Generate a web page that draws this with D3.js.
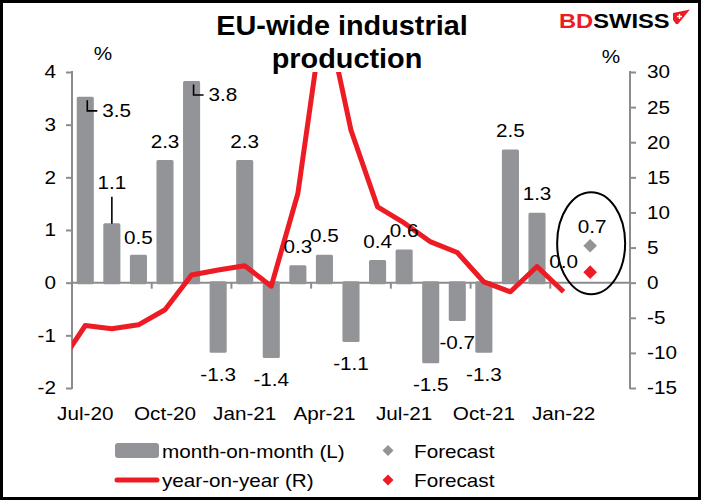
<!DOCTYPE html>
<html>
<head>
<meta charset="utf-8">
<script src="https://cdn.jsdelivr.net/npm/d3@7"></script>
<style>
  html, body { margin: 0; padding: 0; background: #fff; }
  svg { display: block; }
  text { font-family: "Liberation Sans", Arial, sans-serif; }
</style>
</head>
<body>
<svg id="chart" width="701" height="500"></svg>
<script>
// ---------------- DATA ----------------
const months = ["Jul-20","Aug-20","Sep-20","Oct-20","Nov-20","Dec-20",
                "Jan-21","Feb-21","Mar-21","Apr-21","May-21","Jun-21",
                "Jul-21","Aug-21","Sep-21","Oct-21","Nov-21","Dec-21",
                "Jan-22","Feb-22","Mar-22"];
const momValues = [3.5, 1.1, 0.5, 2.3, 3.8, -1.3, 2.3, -1.4, 0.3, 0.5, -1.1,
                   0.4, 0.6, -1.5, -0.7, -1.3, 2.5, 1.3, 0.0];
const yoyPrior = -11.8;              // Jun-20, only its segment into Jul-20 is visible
const yoyValues = [-6.1, -6.55, -6.0, -3.85, 1.1, 1.8, 2.4, -0.5, 12.7, 39.4,
                   21.7, 10.8, 8.5, 5.8, 4.3, 0.1, -1.3, 2.3, -1.3];
const forecastMonth = "Feb-22";
const forecastMom = 0.7;
const forecastYoy = 1.5;
const xTickLabels = ["Jul-20","Oct-20","Jan-21","Apr-21","Jul-21","Oct-21","Jan-22"];
const leftTicks = [-2, -1, 0, 1, 2, 3, 4];
const rightTicks = [-15, -10, -5, 0, 5, 10, 15, 20, 25, 30];
const legendLabels = ["month-on-month (L)", "year-on-year (R)", "Forecast", "Forecast"];
const titleLines = ["EU-wide industrial", "production"];

// ---------------- STYLE ----------------
const GREY_BAR = "#929497";
const AXIS = "#8c8c8c";
const RED = "#ED1C24";
const SX = 1.15; // horizontal stretch of the reference's text

const svg = d3.select("#chart");
const P = { left: 72, right: 630, top: 72, bottom: 388 };

const x = d3.scaleBand().domain(months).range([P.left, P.right]).paddingInner(0.47).paddingOuter(0.235);
const step = x.step();
const cx = m => x(m) + x.bandwidth() / 2;
const yL = d3.scaleLinear().domain([-2, 4]).range([P.bottom, P.top]);
const yR = d3.scaleLinear().domain([-15, 30]).range([P.bottom, P.top]);

function txt(sel, px, py, str, o = {}) {
  return sel.append("text")
    .attr("transform", `translate(${px},${py}) scale(${o.sx ?? SX},1)`)
    .attr("text-anchor", o.anchor || "start")
    .attr("font-size", o.size || 18)
    .attr("font-weight", o.weight || "normal")
    .attr("fill", o.fill || "#000")
    .text(str);
}

// border
svg.append("rect").attr("x", 1.5).attr("y", 1.5).attr("width", 698).attr("height", 497)
  .attr("fill", "#fff").attr("stroke", "#000").attr("stroke-width", 3);

// title
txt(svg, 342, 35, titleLines[0], { size: 28, weight: "bold", anchor: "middle", sx: 1.03 });
txt(svg, 347, 68, titleLines[1], { size: 28, weight: "bold", anchor: "middle", sx: 1.03 });

// logo
const logo = svg.append("text").attr("transform", "translate(559,28) scale(1.13,1)")
  .attr("font-size", 21).attr("font-weight", "bold");
logo.append("tspan").attr("fill", RED).text("BD");
logo.append("tspan").attr("fill", "#000").text("SWISS");
svg.append("path").attr("d", "M673,13 L690,9.5 L678,24 L676,24 L673,20 Z").attr("fill", RED);
svg.append("path").attr("d", "M677,16.5 h5 M679.5,14 v5").attr("stroke", "#fff").attr("stroke-width", 1.3);

// percent labels
txt(svg, 103, 60, "%", { anchor: "middle" });
txt(svg, 611, 63, "%", { anchor: "middle" });

// ---------------- AXES ----------------
const axisG = svg.append("g");
// left axis
const leftAxis = d3.axisLeft(yL).tickValues(leftTicks).tickSize(6).tickFormat("");
const gl = axisG.append("g").attr("transform", `translate(${P.left},0)`).call(leftAxis);
gl.select(".domain").remove();
gl.selectAll(".tick line").attr("stroke", AXIS).attr("stroke-width", 2);
axisG.append("line").attr("x1", P.left).attr("x2", P.left)
  .attr("y1", yL(4) - 1).attr("y2", yL(-2) + 1).attr("stroke", AXIS).attr("stroke-width", 2);
leftTicks.forEach(t => txt(axisG, 56, yL(t) + 6.4, String(t), { anchor: "end" }));

// right axis
const rightAxis = d3.axisRight(yR).tickValues(rightTicks).tickSize(6).tickFormat("");
const gr = axisG.append("g").attr("transform", `translate(${P.right},0)`).call(rightAxis);
gr.select(".domain").remove();
gr.selectAll(".tick line").attr("stroke", AXIS).attr("stroke-width", 2);
axisG.append("line").attr("x1", P.right).attr("x2", P.right)
  .attr("y1", yR(30) - 1).attr("y2", yR(-15) + 1).attr("stroke", AXIS).attr("stroke-width", 2);
rightTicks.forEach(t => txt(axisG, 647, yR(t) + 6.4, String(t), { anchor: "start" }));

// zero line + category ticks every 3 months
axisG.append("line").attr("x1", P.left).attr("x2", P.right)
  .attr("y1", yL(0)).attr("y2", yL(0)).attr("stroke", AXIS).attr("stroke-width", 2);
const boundaryIdx = d3.range(3, months.length, 3);
axisG.selectAll(".xtick").data(boundaryIdx).join("line")
  .attr("x1", i => x(months[i]) - (step - x.bandwidth()) / 2)
  .attr("x2", i => x(months[i]) - (step - x.bandwidth()) / 2)
  .attr("y1", yL(0)).attr("y2", yL(0) + 6).attr("stroke", AXIS).attr("stroke-width", 2);
xTickLabels.forEach(m => txt(axisG, cx(m), 420, m, { anchor: "middle" }));

// ---------------- BARS ----------------
const bars = svg.append("g");
bars.selectAll("rect").data(momValues).join("rect")
  .attr("x", (d, i) => x(months[i]))
  .attr("width", x.bandwidth())
  .attr("y", d => yL(Math.max(0, d)))
  .attr("height", d => Math.abs(yL(d) - yL(0)))
  .attr("fill", GREY_BAR).attr("stroke", GREY_BAR)
  .attr("stroke-width", 3).attr("stroke-linejoin", "round");

// ---------------- LINE ----------------
svg.append("clipPath").attr("id", "plotclip").append("rect")
  .attr("x", P.left).attr("y", P.top).attr("width", P.right - P.left).attr("height", P.bottom - P.top);
const linePts = [[cx(months[0]) - step, yR(yoyPrior)]]
  .concat(yoyValues.map((v, i) => [cx(months[i]), yR(v)]));
svg.append("path").attr("clip-path", "url(#plotclip)")
  .attr("d", d3.line()(linePts))
  .attr("fill", "none").attr("stroke", RED).attr("stroke-width", 5)
  .attr("stroke-linejoin", "round");

// ---------------- LABELS ----------------
const labG = svg.append("g");
momValues.forEach((v, i) => {
  const bx = cx(months[i]);
  let dx = 0, dy = v >= 0 ? -14 : 29.5, anchor = "middle";
  const s = v.toFixed(1);
  if (i === 0 || i === 4) {          // labels set beside the bar with an elbow leader
    dx = 17; dy = 18.5; anchor = "start";
    labG.append("path")
      .attr("d", `M${bx + 2},${yL(v) + 2} V${yL(v) + 12.5} H${bx + 12}`)
      .attr("fill", "none").attr("stroke", "#000").attr("stroke-width", 1.6);
  }
  if (i === 1) {                      // label lifted with a vertical leader
    dy = -36;
    labG.append("line").attr("x1", bx).attr("x2", bx)
      .attr("y1", yL(v) - 1).attr("y2", yL(v) - 28)
      .attr("stroke", "#000").attr("stroke-width", 1.6);
  }
  if (i === 2) dy = -12;
  if (i === 18) dy = -15;
  txt(labG, bx + dx, yL(v) + dy, s, { anchor });
});

// forecasts
const fx = cx(forecastMonth);
const diamond = (px, py, r) => `M${px},${py - r} L${px + r},${py} L${px},${py + r} L${px - r},${py} Z`;
svg.append("path").attr("d", diamond(fx, yL(forecastMom), 6.8)).attr("fill", GREY_BAR);
svg.append("path").attr("d", diamond(fx, yR(forecastYoy), 6.8)).attr("fill", RED);
txt(labG, fx + 2, yL(forecastMom) - 13, forecastMom.toFixed(1), { anchor: "middle" });
svg.append("ellipse").attr("cx", fx + 1).attr("cy", yL(0.75)).attr("rx", 34).attr("ry", 51)
  .attr("fill", "none").attr("stroke", "#000").attr("stroke-width", 2);

// ---------------- LEGEND ----------------
const lg = svg.append("g");
lg.append("rect").attr("x", 115).attr("y", 443).attr("width", 44).attr("height", 15)
  .attr("rx", 3).attr("fill", GREY_BAR);
txt(lg, 162, 458, legendLabels[0]);
lg.append("line").attr("x1", 117).attr("x2", 157).attr("y1", 480).attr("y2", 480)
  .attr("stroke", RED).attr("stroke-width", 5).attr("stroke-linecap", "round");
txt(lg, 162, 487, legendLabels[1]);
lg.append("path").attr("d", diamond(388, 450.5, 5.5)).attr("fill", GREY_BAR);
txt(lg, 414, 458, legendLabels[2]);
lg.append("path").attr("d", diamond(388, 480, 5.5)).attr("fill", RED);
txt(lg, 414, 487, legendLabels[3]);
</script>
</body>
</html>
